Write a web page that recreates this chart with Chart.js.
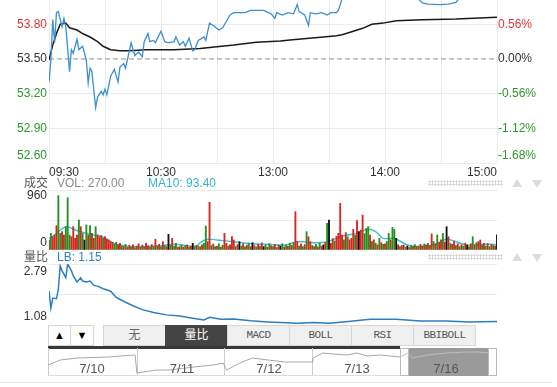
<!DOCTYPE html>
<html>
<head>
<meta charset="utf-8">
<script src="https://cdn.jsdelivr.net/npm/chart.js@4.4.1/dist/chart.umd.min.js"></script>
<style>
body { margin: 0; background: #fff; }
#wrap { position: relative; width: 557px; height: 387px; overflow: hidden; font-family: 'Liberation Sans', 'Noto Sans CJK SC', Arial, sans-serif; font-size: 12px; }
canvas { position: absolute; left: 0; }
.t { position: absolute; line-height: 14px; white-space: nowrap; }
.dots { position: absolute; left: 428px; width: 75px; height: 6px; background-image: radial-gradient(circle, #d0d0d0 0.9px, transparent 1.2px); background-size: 3px 3px; }
.up, .dn { position: absolute; width: 0; height: 0; border-left: 5px solid transparent; border-right: 5px solid transparent; }
.up { left: 512px; border-bottom: 8px solid #dcdcdc; }
.dn { left: 532px; border-top: 8px solid #dcdcdc; }
.btn { position: absolute; top: 325px; height: 21px; line-height: 19px; text-align: center; box-sizing: border-box; border: 1px solid #d6d6d6; background: #f0f0f0; color: #666; }
.mono { font-family: 'Liberation Mono', monospace; font-size: 11px; letter-spacing: -0.6px; color: #555; }
.nav { position: absolute; top: 348px; height: 28px; box-sizing: border-box; }
.date { position: absolute; top: 362px; font-size: 13px; line-height: 14px; color: #555; transform: translateX(-50%); z-index: 3; }
</style>
</head>
<body>
<div id="wrap">
  <canvas id="priceChart" width="557" height="180" style="top:0"></canvas>

  <div class="t" style="left:24px;top:176px;color:#555">成交</div>
  <div class="t" style="left:57px;top:176px;color:#8a8a8a">VOL: 270.00</div>
  <div class="t" style="left:148px;top:176px;color:#35b6ca">MA10: 93.40</div>
  <div class="dots" style="top:180px"></div>
  <div class="up" style="top:179px"></div>
  <div class="dn" style="top:180px"></div>
  <canvas id="volChart" width="557" height="60" style="top:190px"></canvas>

  <div class="t" style="left:24px;top:250px;color:#555">量比</div>
  <div class="t" style="left:57px;top:250px;color:#2f80c4">LB: 1.15</div>
  <div class="dots" style="top:254px"></div>
  <div class="up" style="top:253px"></div>
  <div class="dn" style="top:254px"></div>
  <canvas id="lbChart" width="557" height="60" style="top:264px"></canvas>

  <div class="btn" style="left:48px;width:23px;background:#fff;color:#000;font-size:11px">&#9650;</div>
  <div class="btn" style="left:70px;width:24px;background:#fff;color:#000;font-size:11px">&#9660;</div>
  <div class="btn" style="left:103px;width:63px">无</div>
  <div class="btn" style="left:165px;width:63px;background:#444;border-color:#444;color:#fff">量比</div>
  <div class="btn mono" style="left:227px;width:63px">MACD</div>
  <div class="btn mono" style="left:289px;width:63px">BOLL</div>
  <div class="btn mono" style="left:351px;width:63px">RSI</div>
  <div class="btn mono" style="left:413px;width:63px">BBIBOLL</div>

  <div style="position:absolute;left:48px;top:346px;width:352px;height:3px;background:#383838"></div>
  <div class="nav" style="left:48px;width:90px;border-left:1px solid #ccc;border-right:1px solid #ccc;border-bottom:1px solid #ddd"></div>
  <div class="nav" style="left:137px;width:88px;border-right:1px solid #ccc;border-bottom:1px solid #ddd"></div>
  <div class="nav" style="left:224px;width:89px;border-right:1px solid #ccc;border-bottom:1px solid #ddd"></div>
  <div class="nav" style="left:312px;width:89px;border-bottom:1px solid #ddd"></div>
  <div class="nav" style="left:408px;width:81px;background:#9a9a9a"></div>
  <div class="nav" style="left:400px;width:9px;background:#fff;border:1px solid #bbb"></div>
  <div class="nav" style="left:488px;width:9px;background:#fff;border:1px solid #bbb"></div>
  <canvas id="navChart" width="557" height="28" style="top:348px;z-index:2"></canvas>
  <div class="date" style="left:92px">7/10</div>
  <div class="date" style="left:182px">7/11</div>
  <div class="date" style="left:269px">7/12</div>
  <div class="date" style="left:357px">7/13</div>
  <div class="date" style="left:446px">7/16</div>
  <div style="position:absolute;left:0;top:382px;width:552px;height:1px;background:#e6e6e6"></div>
</div>

<script>
const PREV_CLOSE = 53.50;

const gridMinutes = [0, 30, 60, 90, 120, 150, 180, 210, 240];
const timeTickMinutes = [0, 60, 120, 180, 240];
const timeLabels = ['09:30', '10:30', '13:00', '14:00', '15:00'];

const priceTicks = [52.60, 52.90, 53.20, 53.50, 53.80];
const priceLabels = ['52.60', '52.90', '53.20', '53.50', '53.80'];
const pctLabels = ['-1.68%', '-1.12%', '-0.56%', '0.00%', '0.56%'];

const priceMinutes = [0,1,2,3,4,5,7,8,9,11,12,13,15,16,18,20,21,22,23,25,26,28,29,30,31,33,35,37,38,40,41,44,45,46,48,50,51,53,54,56,57,59,60,62,64,67,68,70,72,73,75,77,78,80,83,84,86,88,91,93,97,99,102,105,108,111,115,119,121,122,125,128,131,133,134,137,139,140,143,146,149,151,154,155,157,160,170,180,190,198,200,203,209,214,218,220,225,232,240];
const priceValues = [53.30,53.49,53.84,53.64,53.90,53.91,53.78,53.85,53.78,53.39,53.58,53.55,53.67,53.58,53.61,53.49,53.29,53.42,53.39,53.08,53.17,53.22,53.19,53.24,53.19,53.35,53.41,53.30,53.43,53.46,53.42,53.64,53.58,53.53,53.56,53.52,53.65,53.72,53.65,53.66,53.64,53.71,53.74,53.65,53.64,53.65,53.69,53.62,53.65,53.61,53.68,53.57,53.58,53.66,53.69,53.66,53.81,53.79,53.75,53.77,53.88,53.90,53.90,53.90,53.92,53.92,53.92,53.89,53.85,53.90,53.88,53.90,53.89,53.97,53.91,53.88,53.79,53.90,53.89,53.90,53.88,53.90,53.90,53.92,54.02,54.08,54.12,54.10,54.06,54.02,53.985,53.975,53.97,53.975,53.99,54.03,54.08,54.10,54.12];

const avgMinutes = [0,2,4,6,9,11,15,18,22,26,29,33,38,43,52,67,81,99,111,124,129,147,154,157,163,168,173,179,186,200,218,240];
const avgValues = [53.49,53.62,53.72,53.80,53.81,53.77,53.75,53.72,53.69,53.65,53.61,53.58,53.57,53.57,53.58,53.58,53.59,53.62,53.645,53.655,53.665,53.69,53.70,53.71,53.74,53.765,53.80,53.81,53.83,53.84,53.845,53.86];

// one bar per minute, 09:30 .. 15:00
const volValues = [
  177,295,235,265,430,960,295,324,265,412,
  924,265,235,412,206,265,530,412,295,177,
  442,265,430,295,206,412,265,235,253,206,
  235,194,177,147,136,100,136,90,118,70,
  60,100,45,80,55,90,40,70,110,50,
  85,60,118,75,50,95,60,190,70,100,
  55,147,80,60,277,90,206,70,120,50,
  60,88,50,75,90,45,65,118,55,80,
  70,55,90,120,424,150,843,80,106,60,
  65,110,50,85,295,120,70,90,235,177,
  60,95,147,70,110,55,85,120,60,130,
  80,55,100,70,125,60,90,50,115,75,
  60,100,45,85,70,110,55,90,65,120,
  80,130,677,150,70,110,60,95,324,235,
  147,80,60,100,55,120,70,90,130,471,
  530,120,200,160,240,295,825,265,180,306,
  235,180,206,365,260,518,324,353,618,290,
  383,412,265,147,180,120,90,206,130,100,
  110,150,295,180,400,365,206,90,60,80,
  88,50,70,45,80,60,95,55,70,100,
  70,106,90,120,80,283,150,110,265,130,
  180,295,140,412,235,120,100,147,80,110,
  60,95,70,120,85,60,110,235,90,130,
  147,177,90,120,70,110,60,95,80,70,270
];
// 1 = up (red), -1 = down (green), 0 = flat (black)
const volDir = [
  1,-1,1,1,1,-1,-1,1,1,-1,
  -1,-1,1,1,1,1,-1,1,-1,0,
  -1,1,-1,1,1,-1,1,1,1,-1,
  1,1,1,1,1,-1,-1,1,1,-1,
  1,-1,1,1,-1,1,-1,1,1,-1,
  1,-1,1,1,-1,1,-1,1,-1,1,
  -1,1,-1,1,0,-1,1,-1,-1,1,
  1,-1,1,-1,1,-1,1,0,-1,1,
  -1,1,1,-1,-1,1,1,-1,1,-1,
  1,-1,1,-1,1,1,-1,1,1,1,
  -1,1,0,-1,1,-1,1,-1,1,0,
  1,-1,1,-1,1,0,-1,1,-1,1,
  -1,1,-1,1,0,-1,1,-1,1,-1,
  1,-1,1,1,-1,1,-1,1,-1,1,
  1,-1,1,-1,1,-1,1,0,1,-1,
  0,1,1,-1,1,1,1,1,-1,1,
  -1,1,1,1,-1,1,0,1,1,-1,
  -1,-1,1,-1,1,-1,1,-1,1,-1,
  1,-1,-1,1,-1,-1,0,1,-1,1,
  1,-1,0,1,-1,1,-1,1,-1,1,
  1,-1,1,-1,1,1,-1,1,-1,1,
  1,-1,1,0,1,-1,1,1,-1,1,
  -1,1,-1,1,0,-1,1,-1,1,-1,
  1,1,-1,1,-1,1,-1,1,-1,1,0
];
const volTicks = [0, 530, 960, 1060];

const ma10Minutes = [0,3,6,9,11,14,17,20,24,27,30,33,36,40,45,54,60,67,74,79,81,85,90,99,106,115,124,127,133,142,149,156,160,165,171,175,179,185,192,199,206,213,218,224,235,240];
const ma10Values = [206,265,353,412,400,353,324,295,265,253,206,147,100,76,58,65,76,100,76,70,130,190,177,147,118,100,88,88,147,130,147,235,265,295,365,324,206,206,88,58,88,190,147,88,106,93.4];

const lbMinutes = [0,1,2,4,5,6,7,9,10,12,13,15,17,18,20,22,24,26,29,33,36,41,45,50,56,63,70,77,83,86,92,99,108,117,124,133,142,150,159,172,186,199,213,225,240];
const lbValues = [2.02,1.535,1.82,1.80,2.065,2.74,2.595,2.40,2.79,2.595,2.45,2.28,2.40,2.305,2.28,2.305,2.18,2.16,2.085,2.015,1.84,1.70,1.60,1.49,1.41,1.34,1.31,1.245,1.195,1.27,1.215,1.225,1.175,1.14,1.12,1.10,1.12,1.10,1.145,1.215,1.215,1.165,1.165,1.14,1.15];
const lbTicks = [1.08, 1.935, 2.79];

// day navigator: x in trading days (7/10 .. 7/16)
const navDays = [0,0.14,0.33,0.69,0.83,0.99,1.01,1.23,1.38,1.66,1.875,1.99,2.03,2.18,2.32,2.69,3.0,3.01,3.125,3.24,3.40,3.51,3.625,3.77,4.0,4.09,4.14,4.31,4.53,4.76,4.9,5.0];
const navValues = [52.88,53.28,53.44,53.52,53.60,53.68,52.24,52.48,52.48,52.72,52.88,53.04,52.48,53.04,53.44,53.12,53.12,53.44,53.84,53.76,53.68,53.84,53.60,53.68,53.52,53.84,53.44,53.68,53.84,53.92,53.92,53.84];

const RED = '#e0363a', GREEN = '#2a9a2a', DARK = '#333';
const GRID = '#ebebeb';

Chart.defaults.font.family = "'Liberation Sans', 'Noto Sans CJK SC', Arial, sans-serif";
Chart.defaults.font.size = 12;

const fixAxis = w => s => { s.width = w; s.paddingTop = 0; s.paddingBottom = 0; };
const pts = (xs, ys) => xs.map((x, i) => ({ x: x, y: ys[i] }));
const base = {
    responsive: false,
    animation: false,
    events: [],
    plugins: { legend: { display: false }, tooltip: { enabled: false } }
};

// price + average
new Chart(document.getElementById('priceChart'), {
    type: 'line',
    data: {
        datasets: [
            { data: pts(priceMinutes, priceValues), borderColor: '#3b8fd3', borderWidth: 1.3, pointRadius: 0, tension: 0 },
            { data: pts(avgMinutes, avgValues), borderColor: '#1a1a1a', borderWidth: 1.5, pointRadius: 0, tension: 0 },
            { data: [{ x: 0, y: PREV_CLOSE }, { x: 240, y: PREV_CLOSE }], borderColor: '#8a8a8a', borderWidth: 1, borderDash: [5, 3], pointRadius: 0 }
        ]
    },
    options: {
        ...base,
        layout: { padding: 0 },
        scales: {
            x: {
                type: 'linear', min: 0, max: 240,
                afterBuildTicks: s => { s.ticks = gridMinutes.map(v => ({ value: v })); },
                afterFit: s => { s.height = 17; },
                ticks: {
                    autoSkip: false, maxRotation: 0, align: 'inner', padding: 2, color: DARK,
                    callback: v => { const i = timeTickMinutes.indexOf(v); return i < 0 ? '' : timeLabels[i]; }
                },
                grid: { color: GRID, drawTicks: false },
                border: { display: false }
            },
            y: {
                position: 'left', min: 52.60, max: 54.01,
                afterBuildTicks: s => { s.ticks = priceTicks.map(v => ({ value: v })); },
                afterFit: fixAxis(49),
                ticks: {
                    autoSkip: false, padding: 2,
                    color: c => c.index < 3 ? GREEN : (c.index === 3 ? DARK : RED),
                    callback: (v, i) => i === 0 ? [priceLabels[i], ''] : priceLabels[i]
                },
                grid: { color: c => c.tick && c.tick.value === PREV_CLOSE ? 'rgba(0,0,0,0)' : GRID, drawTicks: false },
                border: { display: false }
            },
            y1: {
                position: 'right', min: 52.60, max: 54.01,
                afterBuildTicks: s => { s.ticks = priceTicks.map(v => ({ value: v })); },
                afterFit: fixAxis(60),
                ticks: {
                    autoSkip: false, padding: 1,
                    color: c => c.index < 3 ? GREEN : (c.index === 3 ? DARK : RED),
                    callback: (v, i) => i === 0 ? [pctLabels[i], ''] : pctLabels[i]
                },
                grid: { drawOnChartArea: false, drawTicks: false },
                border: { display: false }
            }
        }
    }
});

// volume bars + MA10
new Chart(document.getElementById('volChart'), {
    type: 'bar',
    data: {
        datasets: [
            {
                type: 'bar',
                data: volValues.map((v, i) => ({ x: i, y: v })),
                backgroundColor: volDir.map(d => d > 0 ? '#d9251f' : (d < 0 ? '#1f921f' : '#111')),
                barThickness: 1.2
            },
            { type: 'line', data: pts(ma10Minutes, ma10Values), borderColor: '#40c0d4', borderWidth: 1.5, pointRadius: 0, tension: 0.3 }
        ]
    },
    options: {
        ...base,
        layout: { padding: { right: 60 } },
        scales: {
            x: { type: 'linear', min: 0, max: 240, offset: false, display: false },
            y: {
                min: 0, max: 1060,
                afterBuildTicks: s => { s.ticks = volTicks.map(v => ({ value: v })); },
                afterFit: fixAxis(49),
                ticks: {
                    autoSkip: false, padding: 2, color: DARK,
                    callback: v => v === 0 ? ['0', ''] : (v === 960 ? '960' : '')
                },
                grid: { color: c => c.tick && (c.tick.value === 530 || c.tick.value === 1060) ? GRID : 'rgba(0,0,0,0)', drawTicks: false },
                border: { display: false }
            }
        }
    }
});

// volume ratio (LB)
new Chart(document.getElementById('lbChart'), {
    type: 'line',
    data: {
        datasets: [
            { data: pts(lbMinutes, lbValues), borderColor: '#2d7fc2', borderWidth: 1.5, pointRadius: 0, tension: 0 }
        ]
    },
    options: {
        ...base,
        layout: { padding: { right: 60 } },
        scales: {
            x: { type: 'linear', min: 0, max: 240, display: false },
            y: {
                min: 1.08, max: 2.79,
                afterBuildTicks: s => { s.ticks = lbTicks.map(v => ({ value: v })); },
                afterFit: fixAxis(49),
                ticks: {
                    autoSkip: false, padding: 2, color: DARK,
                    callback: v => v === 1.08 ? ['1.08', ''] : (v === 2.79 ? ['', '2.79'] : '')
                },
                grid: { color: c => c.tick && c.tick.value !== 1.08 ? GRID : 'rgba(0,0,0,0)', drawTicks: false },
                border: { display: false }
            }
        }
    }
});

// day navigator sparkline
new Chart(document.getElementById('navChart'), {
    type: 'line',
    data: {
        datasets: [{
            data: pts(navDays, navValues),
            borderColor: '#a8a8a8', borderWidth: 1, pointRadius: 0, tension: 0,
            segment: { borderColor: c => c.p0.parsed.x >= 4 ? '#bdbdbd' : '#a8a8a8' }
        }]
    },
    options: {
        ...base,
        layout: { padding: { left: 48, right: 69 } },
        scales: {
            x: { type: 'linear', min: 0, max: 5, display: false },
            y: { min: 52.0, max: 54.24, display: false }
        }
    }
});
</script>
</body>
</html>
